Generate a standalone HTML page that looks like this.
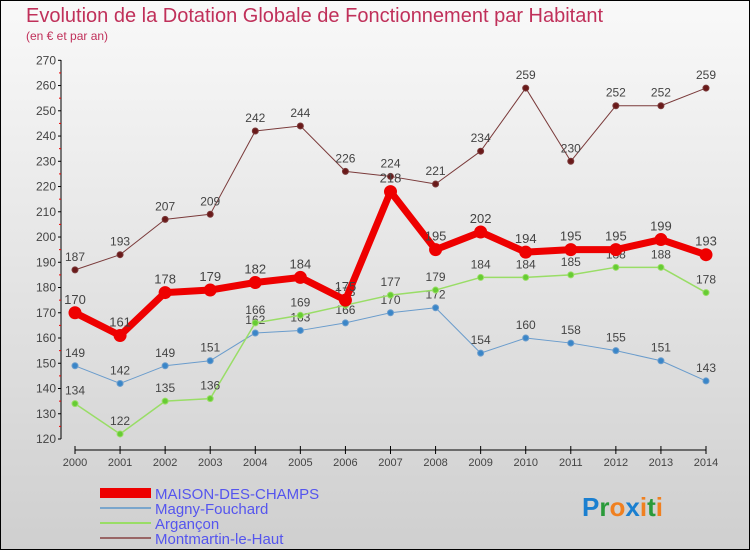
<!DOCTYPE html>
<html><head><meta charset="utf-8"><style>
body{margin:0;width:750px;height:550px;overflow:hidden;font-family:"Liberation Sans",sans-serif}
</style></head><body>
<svg width="750" height="550" xmlns="http://www.w3.org/2000/svg">
<defs><linearGradient id="bg" x1="0" y1="0" x2="0" y2="1"><stop offset="0" stop-color="#f9f9f9"/><stop offset="1" stop-color="#cfcfcf"/></linearGradient></defs>
<rect x="0.5" y="0.5" width="749" height="549" fill="url(#bg)" stroke="#000"/>
<text x="26" y="22" font-size="20" fill="#c0305a">Evolution de la Dotation Globale de Fonctionnement par Habitant</text>
<text x="26" y="40" font-size="12" fill="#c0305a">(en € et par an)</text>
<g id="axes"></g><g id="series"></g>
<g>
<rect x="100" y="488" width="51" height="10" fill="#e00"/>
<text x="155" y="499" font-size="15" fill="#5555ee">MAISON-DES-CHAMPS</text>
<rect x="100" y="507" width="51" height="2" fill="#7aa6cc"/>
<text x="155" y="514" font-size="15" fill="#5555ee">Magny-Fouchard</text>
<rect x="100" y="522" width="51" height="2" fill="#99dd66"/>
<text x="155" y="529" font-size="15" fill="#5555ee">Argançon</text>
<rect x="100" y="537" width="51" height="2" fill="#996666"/>
<text x="155" y="544" font-size="15" fill="#5555ee">Montmartin-le-Haut</text>
</g>
<g font-size="26" font-weight="bold">
<text x="582" y="516"><tspan fill="#1a7fd0">P</tspan><tspan fill="#2a9a3a">r</tspan><tspan fill="#f08020">o</tspan><tspan fill="#1a7fd0">x</tspan><tspan fill="#f08020">i</tspan><tspan fill="#2a9a3a">t</tspan><tspan fill="#f08020">i</tspan></text></g>
</svg>
<script>
const years=[2000,2001,2002,2003,2004,2005,2006,2007,2008,2009,2010,2011,2012,2013,2014];
const maison=[170,161,178,179,182,184,175,218,195,202,194,195,195,199,193];
const magny=[149,142,149,151,162,163,166,170,172,154,160,158,155,151,143];
const argancon=[134,122,135,136,166,169,173,177,179,184,184,185,188,188,178];
const montmartin=[187,193,207,209,242,244,226,224,221,234,259,230,252,252,259];
const yTicks=[120,130,140,150,160,170,180,190,200,210,220,230,240,250,260,270];
const NS="http://www.w3.org/2000/svg";
const X=i=>75+i*(706-75)/(years.length-1);
const Y=v=>439-(v-120)*(439-60.3)/150;
function mk(t,a,p){const e=document.createElementNS(NS,t);for(const k in a)e.setAttribute(k,a[k]);p.appendChild(e);return e;}
const ax=document.getElementById('axes');
mk('line',{x1:61,y1:60,x2:61,y2:439,stroke:'#000'},ax);
mk('line',{x1:75,y1:450,x2:706,y2:450,stroke:'#000'},ax);
yTicks.forEach(v=>{const y=Y(v);mk('line',{x1:58,y1:y,x2:61,y2:y,stroke:'#000'},ax);
 if(v<270)mk('line',{x1:59,y1:Y(v+5),x2:61,y2:Y(v+5),stroke:'#e00'},ax);
 const t=mk('text',{x:56,y:y+4,'font-size':12,fill:'#444','text-anchor':'end'},ax);t.textContent=v;
 
 });
years.forEach((yr,i)=>{const x=X(i);mk('line',{x1:x,y1:446,x2:x,y2:454,stroke:'#000'},ax);
 const t=mk('text',{x:x,y:466,'font-size':11,fill:'#444','text-anchor':'middle'},ax);t.textContent=yr;
 
 });
const sg=document.getElementById('series');
function draw(name,data,col,w,r,dot,fs){
 const g=mk('g',{},sg);
 
 
 const pts=data.map((v,i)=>X(i)+','+Y(v)).join(' ');
 mk('polyline',{points:pts,fill:'none',stroke:col,'stroke-width':w,'stroke-linejoin':'round'},g);
 data.forEach((v,i)=>{const c=mk('circle',{cx:X(i),cy:Y(v),r:r,fill:dot,stroke:col,'stroke-width':1},g);
  
  
  const t=mk('text',{x:X(i),y:Y(v)-9,'font-size':fs,fill:'#444','text-anchor':'middle'},g);t.textContent=v;
  
  });
}
draw('montmartin',montmartin,'#7a3a3a',1,3,'#6a1a1a',12);
draw('magny',magny,'#6a9ccc',1,3,'#3a86c8',12);
draw('argancon',argancon,'#99dd66',1.5,3,'#66cc33',12);
draw('maison',maison,'#ee0000',7,6,'#ee0000',13);
</script>
</body></html>
